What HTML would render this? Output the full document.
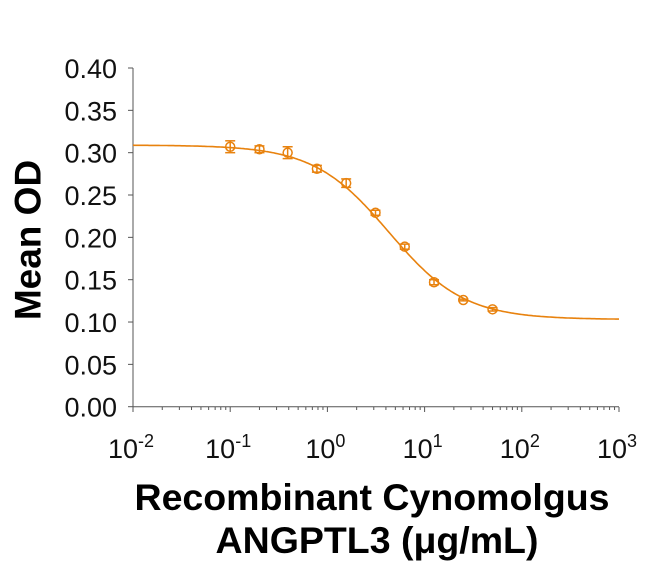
<!DOCTYPE html>
<html><head><style>
body{margin:0;background:#fff;}
svg{display:block;font-family:"Liberation Sans",Arial,sans-serif;}
</style></head><body>
<svg id="s" width="650" height="563" xmlns="http://www.w3.org/2000/svg">
<g id="g"></g>
<text x="28" y="240" transform="rotate(-90 28 240)" text-anchor="middle" font-size="37" font-weight="bold" dominant-baseline="central">Mean OD</text>
<text x="372" y="510" text-anchor="middle" font-size="37.5" font-weight="bold">Recombinant Cynomolgus</text>
<text x="377" y="553" text-anchor="middle" font-size="37.5" font-weight="bold">ANGPTL3 (μg/mL)</text>
</svg>
<script>
const g=document.getElementById('g');let h='';
const X=v=>133+(Math.log10(v)+2)*97.2, Y=v=>406.7-v*846.75;
h+='<line x1="133" y1="68" x2="133" y2="407" stroke="#555" stroke-width="1"/>';
h+='<line x1="133" y1="406.7" x2="619" y2="406.7" stroke="#555" stroke-width="1"/>';
for(let i=0;i<=8;i++){const v=i*0.05,y=Y(v);h+=`<line x1="128" y1="${y}" x2="133" y2="${y}" stroke="#555"/>`;
h+=`<text x="117" y="${y+10}" text-anchor="end" font-size="27" fill="#111">${v.toFixed(2)}</text>`;}
for(let d=-2;d<=3;d++){const x=X(Math.pow(10,d));h+=`<line x1="${x}" y1="407" x2="${x}" y2="412" stroke="#555"/>`;
h+=`<text x="${x-2}" y="458" text-anchor="middle" font-size="27" fill="#111">10<tspan dy="-11" font-size="18">${d}</tspan></text>`;
if(d<3)for(let k=2;k<=9;k++){const xm=X(k*Math.pow(10,d));h+=`<line x1="${xm}" y1="407" x2="${xm}" y2="410" stroke="#555"/>`;}}
const c='#E8820E';
const f=x=>0.103+0.206/(1+Math.pow(x/4.3,1.12));
let p='';for(let i=0;i<=300;i++){const lx=-2+5*i/300,x=Math.pow(10,lx);p+=(i?'L':'M')+X(x).toFixed(1)+' '+Y(f(x)).toFixed(1);}
h+=`<path d="${p}" fill="none" stroke="${c}" stroke-width="1.6"/>`;
const pts=[[0.1,.307,.007],[0.2,.304,.004],[0.39,.300,.007],[0.78,.281,.004],[1.56,.264,.005],[3.125,.229,.003],[6.25,.189,.003],[12.5,.147,.003],[25,.126,.001],[50,.115,.002]];
for(const[x,y,e]of pts){const px=X(x),py=Y(y),t=Y(y+e),b=Y(y-e);
h+=`<line x1="${px}" y1="${t}" x2="${px}" y2="${b}" stroke="${c}" stroke-width="1.5"/><line x1="${px-5}" y1="${t}" x2="${px+5}" y2="${t}" stroke="${c}" stroke-width="1.5"/><line x1="${px-5}" y1="${b}" x2="${px+5}" y2="${b}" stroke="${c}" stroke-width="1.5"/><circle cx="${px}" cy="${py}" r="4.5" fill="none" stroke="${c}" stroke-width="1.5"/>`;}
g.innerHTML=h;
</script>
</body></html>
